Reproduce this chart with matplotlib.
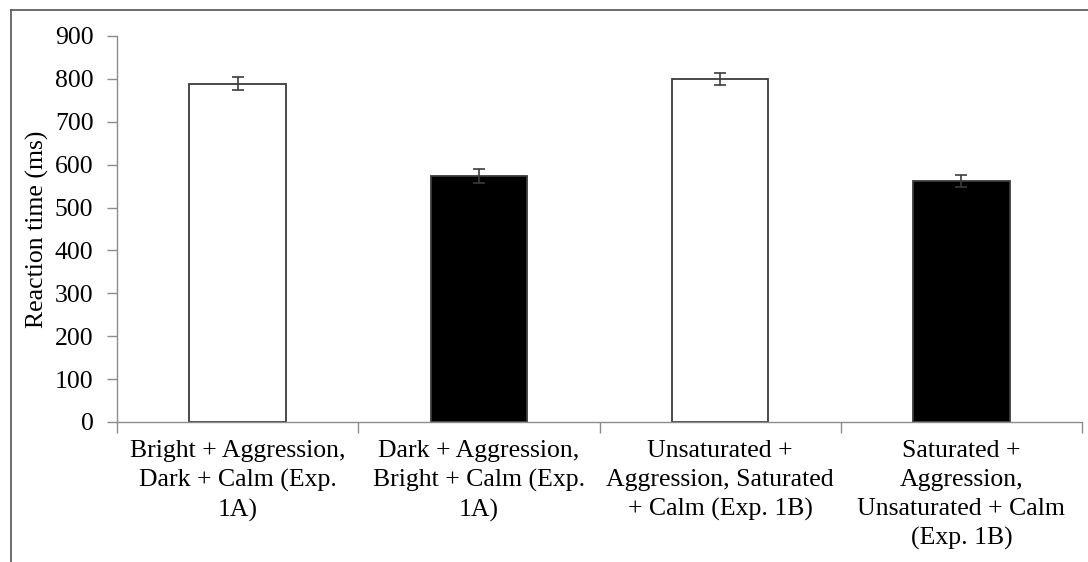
import numpy as np
import matplotlib.pyplot as plt
from matplotlib.lines import Line2D

# conditions and mean reaction times (ms) with standard errors
labels = ['Bright + Aggression,\nDark + Calm (Exp.\n1A)',
          'Dark + Aggression,\nBright + Calm (Exp.\n1A)',
          'Unsaturated +\nAggression, Saturated\n+ Calm (Exp. 1B)',
          'Saturated +\nAggression,\nUnsaturated + Calm\n(Exp. 1B)']
rt = [789, 573, 800, 561]
se = [16, 16, 14, 14]
colors = ['white', 'black', 'white', 'black']

plt.rcParams['font.family'] = 'Liberation Serif'
plt.rcParams['font.size'] = 18.5

fig = plt.figure(figsize=(10.88, 5.62), dpi=100)
ax = fig.add_axes([117/1088, 140/562, 965/1088, 386/562])

x = np.arange(len(rt)) + 0.5
ax.bar(x, rt, width=0.4, color=colors, edgecolor='#3c3c3c', linewidth=1.3, zorder=2)
ax.errorbar(x, rt, yerr=se, fmt='none', ecolor='#3c3c3c', elinewidth=1.2,
            capsize=4.5, capthick=1.2, zorder=3)

ax.set_xlim(0, 4)
ax.set_ylim(0, 900)
ax.set_yticks(range(0, 901, 100))
ax.set_ylabel('Reaction time (ms)', labelpad=4)

# boundaries carry the ticks, centres carry the labels
ax.set_xticks(range(5))
ax.set_xticklabels([''] * 5)
ax.set_xticks(x, minor=True)
ax.set_xticklabels(labels, minor=True, linespacing=1.4)
ax.tick_params(axis='x', which='major', length=8, width=1, color='#8c8c8c', direction='out')
ax.tick_params(axis='x', which='minor', length=0, pad=13)
ax.tick_params(axis='y', length=7, width=1, color='#8c8c8c', pad=10)

for s in ['top', 'right']:
    ax.spines[s].set_visible(False)
for s in ['left', 'bottom']:
    ax.spines[s].set_color('#8c8c8c')
    ax.spines[s].set_linewidth(1)

# page border visible along top and left of the screenshot
fig.add_artist(Line2D([11/1088, 1], [1 - 10/562, 1 - 10/562], color='#555555', lw=1.2))
fig.add_artist(Line2D([11/1088, 11/1088], [0, 1 - 10/562], color='#555555', lw=1.2))

fig.savefig('out.png', dpi=100)
